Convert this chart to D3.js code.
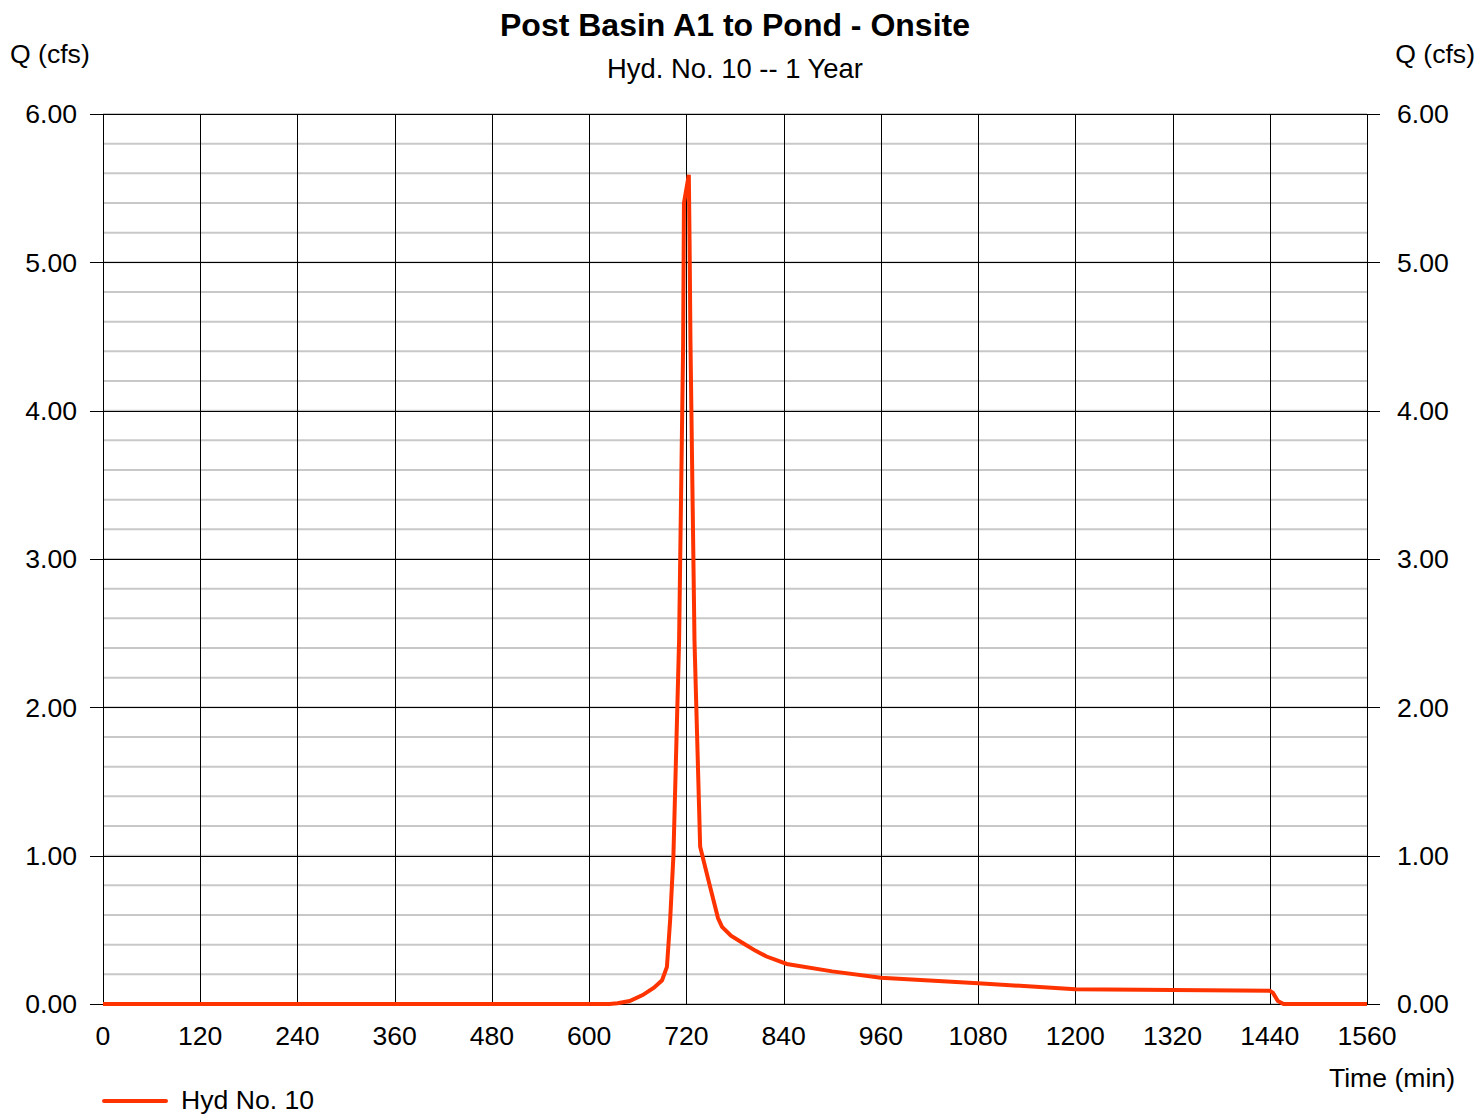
<!DOCTYPE html>
<html>
<head>
<meta charset="utf-8">
<script src="https://cdn.jsdelivr.net/npm/d3@7"></script>
<style>
  body { margin: 0; background: #fff; }
  svg { display: block; font-family: "Liberation Sans", Arial, sans-serif; }
</style>
</head>
<body>
<svg id="chart" width="1476" height="1114"></svg>
<script>
// Hydrograph ordinates: time (min) and discharge Q (cfs)
const timeMin = [0, 120, 240, 360, 480, 600, 625, 635, 650, 666, 680, 690, 696, 700, 704, 711, 716, 717, 723,
  724, 725, 730, 737, 747, 759, 764, 775, 790, 805, 819, 844, 900, 960, 1080, 1200, 1320, 1440, 1444, 1450, 1457, 1500, 1560];
const flowCfs = [0, 0, 0, 0, 0, 0, 0, 0.005, 0.02, 0.06, 0.11, 0.16, 0.25, 0.57, 1.0, 2.45, 4.45, 5.40, 5.59,
  5.10, 4.48, 2.45, 1.06, 0.84, 0.58, 0.52, 0.46, 0.41, 0.36, 0.32, 0.27, 0.22, 0.177, 0.14, 0.10, 0.095, 0.09, 0.075, 0.02, 0, 0, 0];

const xTicks = [0, 120, 240, 360, 480, 600, 720, 840, 960, 1080, 1200, 1320, 1440, 1560];
const yMajor = [0, 1, 2, 3, 4, 5, 6];
const yMinor = d3.range(0, 6.0001, 0.2);

const titleText = "Post Basin A1 to Pond - Onsite";
const subtitleText = "Hyd. No. 10 -- 1 Year";
const seriesName = "Hyd No. 10";

const svg = d3.select("#chart");
const plotL = 103, plotR = 1367, plotT = 114, plotB = 1004;
const fs = 26.6;

const x = d3.scaleLinear().domain([0, 1560]).range([plotL, plotR]);
const y = d3.scaleLinear().domain([0, 6]).range([plotB, plotT]);

// minor horizontal grid (every 0.2 cfs)
svg.append("g").selectAll("line").data(yMinor).join("line")
  .attr("x1", plotL).attr("x2", plotR)
  .attr("y1", d => y(d)).attr("y2", d => y(d))
  .attr("stroke", "#c8c8c8").attr("stroke-width", 2);

// major horizontal grid with outside ticks on both sides
svg.append("g").selectAll("line").data(yMajor).join("line")
  .attr("x1", plotL - 13).attr("x2", plotR + 13)
  .attr("y1", d => Math.round(y(d)) + 0.5).attr("y2", d => Math.round(y(d)) + 0.5)
  .attr("stroke", "#000").attr("stroke-width", 1);

// vertical grid every 120 min
svg.append("g").selectAll("line").data(xTicks).join("line")
  .attr("x1", d => Math.round(x(d)) + 0.5).attr("x2", d => Math.round(x(d)) + 0.5)
  .attr("y1", plotT).attr("y2", plotB)
  .attr("stroke", "#000").attr("stroke-width", 1);

// y tick labels, left and right
const fmt = d3.format(".2f");
svg.append("g").selectAll("text").data(yMajor).join("text")
  .attr("x", 77).attr("y", d => y(d)).attr("dy", "0.35em")
  .attr("text-anchor", "end").attr("font-size", fs).text(fmt);
svg.append("g").selectAll("text").data(yMajor).join("text")
  .attr("x", 1397).attr("y", d => y(d)).attr("dy", "0.35em")
  .attr("text-anchor", "start").attr("font-size", fs).text(fmt);

// x tick labels
svg.append("g").selectAll("text").data(xTicks).join("text")
  .attr("x", d => x(d)).attr("y", 1045)
  .attr("text-anchor", "middle").attr("font-size", fs).text(d => d);

// axis titles
svg.append("text").attr("x", 10).attr("y", 63).attr("font-size", fs).text("Q (cfs)");
svg.append("text").attr("x", 1475).attr("y", 63).attr("text-anchor", "end").attr("font-size", fs).text("Q (cfs)");
svg.append("text").attr("x", 1455).attr("y", 1087).attr("text-anchor", "end").attr("font-size", fs).text("Time (min)");

// titles
svg.append("text").attr("x", 735).attr("y", 36).attr("text-anchor", "middle")
  .attr("font-size", 32).attr("font-weight", "bold").text(titleText);
svg.append("text").attr("x", 735).attr("y", 78).attr("text-anchor", "middle")
  .attr("font-size", 27.4).text(subtitleText);

// hydrograph
const pts = timeMin.map((t, i) => [t, flowCfs[i]]);
const line = d3.line().x(d => x(d[0])).y(d => y(d[1]));
svg.append("path").datum(pts)
  .attr("d", line)
  .attr("fill", "none")
  .attr("stroke", "#ff3300")
  .attr("stroke-width", 4)
  .attr("stroke-linejoin", "miter")
  .attr("stroke-miterlimit", 10);

// legend
svg.append("line").attr("x1", 104).attr("x2", 166).attr("y1", 1101).attr("y2", 1101)
  .attr("stroke", "#ff3300").attr("stroke-width", 4).attr("stroke-linecap", "round");
svg.append("text").attr("x", 181).attr("y", 1109).attr("font-size", fs).text(seriesName);
</script>
</body>
</html>
